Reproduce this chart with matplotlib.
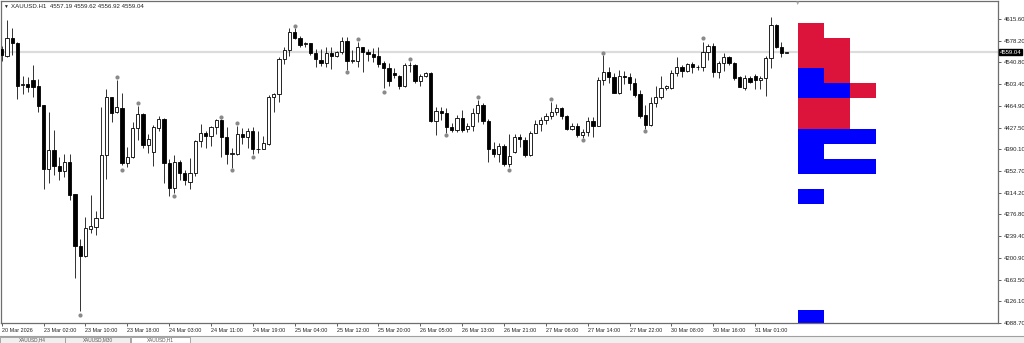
import matplotlib
matplotlib.use('Agg')
import matplotlib.pyplot as plt
from matplotlib.patches import Rectangle
from matplotlib.lines import Line2D

plt.rcParams['font.family'] = ['Liberation Sans', 'DejaVu Sans']

# XAUUSD H1 bars, 20 Mar 2026 -> 31 Mar 2026 07:00
opens = [4564, 4552, 4583, 4574, 4501, 4504, 4510, 4500, 4467, 4355,
         4388, 4361, 4352, 4368, 4313, 4222, 4205, 4252, 4254, 4270,
         4380, 4480, 4454, 4462, 4366, 4376, 4427, 4451, 4397, 4385,
         4427, 4443, 4366, 4322, 4368, 4349, 4333, 4349, 4404, 4418,
         4413, 4429, 4440, 4411, 4381, 4382, 4416, 4411, 4421, 4390,
         4391, 4399, 4480, 4486, 4546, 4563, 4593, 4583, 4572, 4574,
         4557, 4545, 4539, 4557, 4552, 4559, 4578, 4543, 4544, 4567,
         4559, 4555, 4552, 4540, 4531, 4522, 4517, 4499, 4536, 4536,
         4508, 4517, 4522, 4439, 4457, 4453, 4428, 4423, 4445, 4425,
         4430, 4453, 4467, 4439, 4391, 4382, 4396, 4364, 4385, 4411,
         4406, 4380, 4418, 4434, 4440, 4447, 4454, 4461, 4447, 4425,
         4430, 4414, 4419, 4439, 4430, 4510, 4524, 4516, 4488, 4517,
         4515, 4505, 4486, 4449, 4432, 4470, 4481, 4496, 4496, 4522,
         4532, 4526, 4538, 4532, 4532, 4559, 4569, 4524, 4539, 4550,
         4539, 4515, 4496, 4513, 4517, 4510, 4513, 4548, 4605, 4567,
         4557.19]
highs = [4569, 4614, 4600, 4576, 4517, 4515, 4536, 4512, 4467, 4455,
         4423, 4376, 4382, 4382, 4313, 4234, 4272, 4310, 4283, 4463,
         4495, 4481, 4510, 4488, 4394, 4437, 4465, 4452, 4417, 4432,
         4448, 4444, 4373, 4380, 4371, 4354, 4374, 4406, 4434, 4421,
         4430, 4442, 4443, 4428, 4392, 4431, 4426, 4426, 4428, 4421,
         4413, 4484, 4488, 4550, 4567, 4601, 4600, 4587, 4576, 4575,
         4564, 4564, 4567, 4567, 4560, 4585, 4585, 4562, 4576, 4568,
         4564, 4566, 4567, 4543, 4540, 4531, 4519, 4540, 4541, 4538,
         4520, 4524, 4524, 4463, 4463, 4462, 4435, 4449, 4458, 4435,
         4462, 4475, 4470, 4442, 4403, 4401, 4399, 4417, 4416, 4416,
         4411, 4421, 4441, 4446, 4452, 4472, 4468, 4463, 4449, 4435,
         4435, 4425, 4446, 4446, 4515, 4553, 4533, 4522, 4527, 4526,
         4522, 4514, 4493, 4466, 4481, 4500, 4517, 4501, 4527, 4550,
         4536, 4539, 4541, 4536, 4577, 4572, 4574, 4543, 4557, 4552,
         4541, 4517, 4519, 4517, 4520, 4517, 4552, 4619, 4607, 4576,
         4559.62]
lows = [4543, 4550, 4553, 4478, 4486, 4489, 4481, 4455, 4321, 4331,
        4345, 4336, 4342, 4302, 4166, 4109, 4203, 4245, 4241, 4270,
        4338, 4437, 4452, 4362, 4359, 4374, 4406, 4392, 4383, 4361,
        4422, 4331, 4308, 4314, 4336, 4327, 4321, 4343, 4393, 4392,
        4396, 4416, 4376, 4364, 4357, 4380, 4399, 4392, 4381, 4384,
        4390, 4397, 4455, 4472, 4538, 4552, 4581, 4567, 4567, 4553,
        4533, 4535, 4533, 4529, 4550, 4555, 4528, 4539, 4533, 4524,
        4544, 4541, 4533, 4496, 4500, 4513, 4495, 4498, 4524, 4505,
        4499, 4515, 4437, 4415, 4440, 4418, 4419, 4420, 4420, 4420,
        4421, 4437, 4434, 4368, 4376, 4368, 4360, 4359, 4383, 4393,
        4376, 4378, 4418, 4422, 4433, 4443, 4449, 4442, 4423, 4423,
        4411, 4409, 4413, 4411, 4430, 4501, 4505, 4488, 4486, 4503,
        4493, 4481, 4444, 4425, 4430, 4463, 4477, 4492, 4494, 4517,
        4515, 4524, 4522, 4527, 4526, 4545, 4515, 4514, 4526, 4536,
        4510, 4498, 4493, 4505, 4494, 4494, 4482, 4531, 4565, 4550,
        4556.92]
closes = [4553, 4583, 4574, 4500, 4504, 4498, 4498, 4465, 4355, 4388,
          4361, 4352, 4368, 4311, 4222, 4205, 4253, 4256, 4270, 4380,
          4481, 4453, 4463, 4366, 4376, 4427, 4451, 4397, 4407, 4429,
          4443, 4366, 4322, 4368, 4349, 4336, 4349, 4404, 4418, 4413,
          4429, 4441, 4411, 4381, 4384, 4416, 4411, 4421, 4390, 4391,
          4400, 4480, 4486, 4546, 4563, 4593, 4584, 4571, 4574, 4557,
          4546, 4539, 4557, 4552, 4559, 4578, 4543, 4545, 4567, 4559,
          4555, 4550, 4538, 4531, 4508, 4518, 4499, 4536, 4537, 4508,
          4517, 4522, 4439, 4456, 4453, 4428, 4424, 4445, 4423, 4430,
          4453, 4467, 4439, 4391, 4382, 4396, 4364, 4378, 4411, 4407,
          4380, 4418, 4434, 4440, 4447, 4454, 4461, 4447, 4425, 4430,
          4414, 4419, 4439, 4430, 4511, 4524, 4516, 4488, 4517, 4515,
          4505, 4484, 4447, 4432, 4470, 4481, 4496, 4499, 4522, 4532,
          4526, 4538, 4532, 4533, 4559, 4569, 4524, 4539, 4550, 4539,
          4513, 4498, 4514, 4506, 4510, 4513, 4548, 4605, 4567, 4557,
          4559.04]

# fractal markers (bar index, price of the dot)
frac_up_idx = [22, 26, 42, 45, 56, 68, 78, 91, 105, 115, 134]
frac_up_px = [4515, 4470, 4446, 4436, 4604, 4581, 4546, 4481, 4477, 4557, 4583]
frac_dn_idx = [15, 23, 33, 44, 48, 66, 73, 85, 97, 111, 123]
frac_dn_px = [4102, 4354, 4309, 4354, 4376, 4524, 4489, 4415, 4354, 4406, 4421]

# right-hand profile: bin tops (price) and length in blocks
bin_tops = [4609.2, 4583.0, 4556.8, 4530.6, 4504.4, 4478.2, 4452.0, 4425.8,
            4399.6, 4373.4, 4347.2, 4321.0, 4294.8, 4268.6, 4242.4, 4216.2,
            4190.0, 4163.8, 4137.6, 4111.4]
red_len = [1, 2, 2, 2, 3, 2, 2, 0, 0, 0, 0, 0, 0, 0, 0, 0, 0, 0, 0, 0]
blue_len = [0, 0, 0, 1, 2, 0, 0, 3, 1, 3, 0, 1, 0, 0, 0, 0, 0, 0, 0, 1]

price_ticks = [4615.60, 4578.20, 4540.80, 4503.40, 4464.90, 4427.50, 4390.10,
               4352.70, 4314.20, 4276.80, 4239.40, 4200.90, 4163.50, 4126.10,
               4088.70]
time_idx = list(range(0, 145, 8))
time_labels = ['20 Mar 2026', '23 Mar 02:00', '23 Mar 10:00', '23 Mar 18:00',
               '24 Mar 03:00', '24 Mar 11:00', '24 Mar 19:00', '25 Mar 04:00',
               '25 Mar 12:00', '25 Mar 20:00', '26 Mar 05:00', '26 Mar 13:00',
               '26 Mar 21:00', '27 Mar 06:00', '27 Mar 14:00', '27 Mar 22:00',
               '30 Mar 08:00', '30 Mar 16:00', '31 Mar 01:00']
last_price = 4559.04

W, H = 1024, 343
fig = plt.figure(figsize=(W / 100, H / 100), dpi=100)
ax = fig.add_axes([0.5 / W, 20 / H, 997.5 / W, 322 / H])

n = len(opens)
idx = list(range(n))

# current price line
ax.axhline(last_price, color='#dcdcdc', lw=1.6, zorder=1)

# candles
ax.vlines(idx, lows, highs, color='#111111', lw=0.6, zorder=2)
bottoms = [min(o, c) for o, c in zip(opens, closes)]
heights = [max(abs(c - o), 0.8) for o, c in zip(opens, closes)]
faces = ['white' if c >= o else 'black' for o, c in zip(opens, closes)]
ax.bar(idx, heights, bottom=bottoms, width=0.62, color=faces,
       edgecolor='black', linewidth=0.6, zorder=3)

# fractals
ax.scatter(frac_up_idx, frac_up_px, s=9, color='#8a8a8a', zorder=4, linewidths=0)
ax.scatter(frac_dn_idx, frac_dn_px, s=9, color='#8a8a8a', zorder=4, linewidths=0)

# profile blocks
hist_x0 = 152.2
col_w = 4.97
bin_h = 26.2
bin_bottoms = [t - bin_h for t in bin_tops]
ax.barh(bin_bottoms, [k * col_w for k in red_len], left=hist_x0, height=bin_h,
        align='edge', color='#dc143c', zorder=2)
ax.barh(bin_bottoms, [k * col_w for k in blue_len], left=hist_x0, height=bin_h,
        align='edge', color='#0000ff', zorder=2.5)

ax.set_xlim(-0.23, 190.4)
ax.set_ylim(4088.1, 4647.4)

for s in ax.spines.values():
    s.set_color('#6e6e6e')
    s.set_linewidth(0.9)

ax.yaxis.tick_right()
ax.set_yticks(price_ticks)
ax.set_yticklabels([f'{p:.2f}' for p in price_ticks])
ax.tick_params(axis='y', length=2.5, width=0.6, pad=1.5, labelsize=4.3,
               color='#444444', labelcolor='#222222')

ax.set_xticks(time_idx)
ax.set_xticklabels(time_labels, ha='left')
ax.tick_params(axis='x', length=2.5, width=0.6, pad=1.2, labelsize=3.9,
               color='#444444', labelcolor='#222222')

# header and markers
fig.text(3 / W, 1 - 6 / H, '\u25bc', fontsize=3.5, va='center', color='#222222')
fig.text(11 / W, 1 - 6 / H, 'XAUUSD.H1  4557.19 4559.62 4556.92 4559.04',
         fontsize=4.4, va='center', color='#222222')
fig.text(798 / W, 1 - 3 / H, '\u25bc', fontsize=4, ha='center', va='center',
         color='#a8a8a8')

# current price tag
fig.text(1000 / W, 1 - 52 / H, f'{last_price:.2f}', fontsize=4.3, va='center',
         color='white', bbox=dict(boxstyle='square,pad=0.12', fc='black', ec='black'))

# bottom tab strip
fig.add_artist(Rectangle((0, 0), 1, 7 / H, transform=fig.transFigure,
                         fc='#f0f0f0', ec='none'))
fig.add_artist(Line2D([0, 1], [1 - 335.5 / H] * 2, transform=fig.transFigure,
                      color='#a0a0a0', lw=0.8))
tabs = [(0, 65, 'XAUUSD,H4', '#f0f0f0'), (65, 130, 'XAUUSD,M30', '#f0f0f0'),
        (131, 190, 'XAUUSD,H1', 'white')]
for x0, x1, name, fc in tabs:
    fig.add_artist(Rectangle((x0 / W, 0), (x1 - x0) / W, 6 / H,
                             transform=fig.transFigure, fc=fc, ec='#9a9a9a', lw=0.6))
    fig.text((x0 + x1) / 2 / W, 3.2 / H, name, fontsize=3.4, ha='center',
             va='center', color='#555555')

fig.savefig('out.png', dpi=100)
